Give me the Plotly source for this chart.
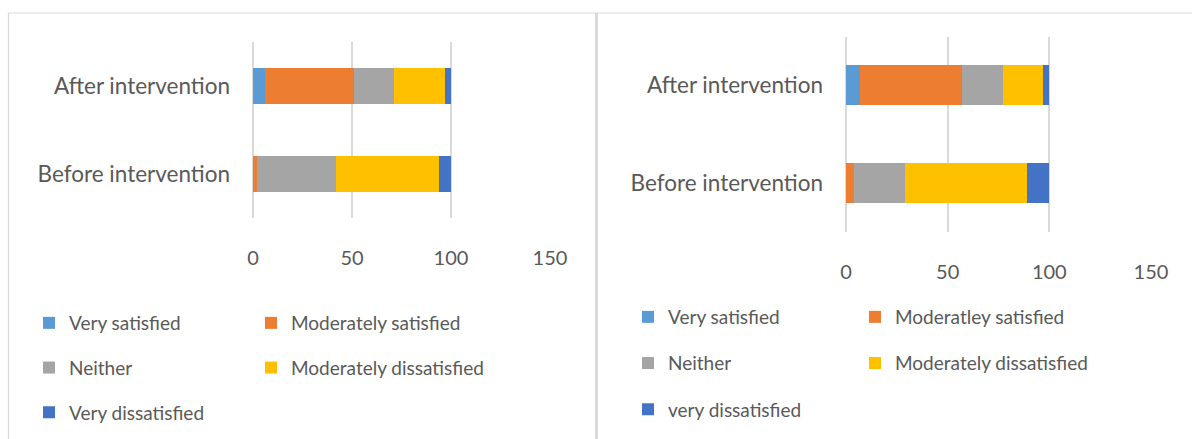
import plotly.graph_objects as go

W, H = 1192, 439

categories = ["Before intervention", "After intervention"]

# Left chart: satisfaction (%) before / after
left_names = ["Very satisfied", "Moderately satisfied", "Neither",
              "Moderately dissatisfied", "Very dissatisfied"]
left_very_sat = [0, 6]
left_mod_sat = [2, 45]
left_neither = [40, 20]
left_mod_dissat = [52, 26]
left_very_dissat = [6, 3]

# Right chart: satisfaction (%) before / after
right_names = ["Very satisfied", "Moderatley satisfied", "Neither",
               "Moderately dissatisfied", "very dissatisfied"]
right_very_sat = [0, 7]
right_mod_sat = [4, 50]
right_neither = [25, 20]
right_mod_dissat = [60, 20]
right_very_dissat = [11, 3]

x_ticks = [0, 50, 100, 150]

colors = ["#5B9BD5", "#ED7D31", "#A5A5A5", "#FFC000", "#4472C4"]
TEXT = "#595959"
GRID = "#D9D9D9"
FONT = "Lato"


def px(x):
    return x / W


def py(y):
    return 1 - y / H


fig = go.Figure()

left_vals = [left_very_sat, left_mod_sat, left_neither, left_mod_dissat, left_very_dissat]
right_vals = [right_very_sat, right_mod_sat, right_neither, right_mod_dissat, right_very_dissat]
left_legends = ["legend", "legend2", "legend", "legend2", "legend"]
right_legends = ["legend3", "legend4", "legend3", "legend4", "legend3"]

for i, (name, vals) in enumerate(zip(left_names, left_vals)):
    fig.add_trace(go.Bar(
        y=categories, x=vals, name=name, orientation="h",
        marker=dict(color=colors[i], line=dict(width=0)),
        width=0.4, xaxis="x", yaxis="y",
        legend=left_legends[i], legendgroup=f"l{i}",
    ))

for i, (name, vals) in enumerate(zip(right_names, right_vals)):
    fig.add_trace(go.Bar(
        y=categories, x=vals, name=name, orientation="h",
        marker=dict(color=colors[i], line=dict(width=0)),
        width=0.41, xaxis="x2", yaxis="y2",
        legend=right_legends[i], legendgroup=f"r{i}",
    ))

xaxis_common = dict(
    range=[0, 150], tickvals=x_ticks, showgrid=True, gridcolor=GRID, gridwidth=1.5,
    zeroline=True, zerolinecolor=GRID, zerolinewidth=1.5, showline=False,
    ticks="", ticklabelstandoff=26, automargin=False,
    tickfont=dict(family=FONT, size=20, color=TEXT), fixedrange=True,
)
yaxis_common = dict(
    range=[-0.5, 1.5], showgrid=False, zeroline=False, showline=False, ticks="",
    ticklabelstandoff=22, automargin=False,
    tickfont=dict(family=FONT, size=22.5, color=TEXT), fixedrange=True,
)

legend_common = dict(
    orientation="v", traceorder="grouped", bgcolor="rgba(0,0,0,0)",
    font=dict(family=FONT, size=19, color=TEXT), xanchor="left", yanchor="top",
)

fig.update_layout(
    width=W, height=H, autosize=False,
    margin=dict(l=0, r=0, t=0, b=0, pad=0, autoexpand=False),
    paper_bgcolor="white", plot_bgcolor="white",
    barmode="stack", showlegend=True,
    xaxis=dict(domain=[px(253), px(550)], anchor="y", **xaxis_common),
    yaxis=dict(domain=[py(218), py(42)], anchor="x", **yaxis_common),
    xaxis2=dict(domain=[px(846), px(1151)], anchor="y2", **xaxis_common),
    yaxis2=dict(domain=[py(231.7), py(36.7)], anchor="x2", **yaxis_common),
    legend=dict(x=px(29), y=py(304), tracegroupgap=17, **legend_common),
    legend2=dict(x=px(251), y=py(304), tracegroupgap=17, **legend_common),
    legend3=dict(x=px(628), y=py(298), tracegroupgap=18.5, **legend_common),
    legend4=dict(x=px(855), y=py(298), tracegroupgap=18.5, **legend_common),
)

# Panel frames
frame = dict(type="line", xref="paper", yref="paper", line=dict(color=GRID, width=1.2))
fig.add_shape(x0=px(8.5), x1=px(W), y0=py(13), y1=py(13), **frame)
fig.add_shape(x0=px(8.5), x1=px(8.5), y0=py(13), y1=py(H), **frame)
fig.add_shape(x0=px(596.5), x1=px(596.5), y0=py(13), y1=py(H),
              type="line", xref="paper", yref="paper", line=dict(color=GRID, width=3))

fig.write_html("out.html", config={"displayModeBar": False})
